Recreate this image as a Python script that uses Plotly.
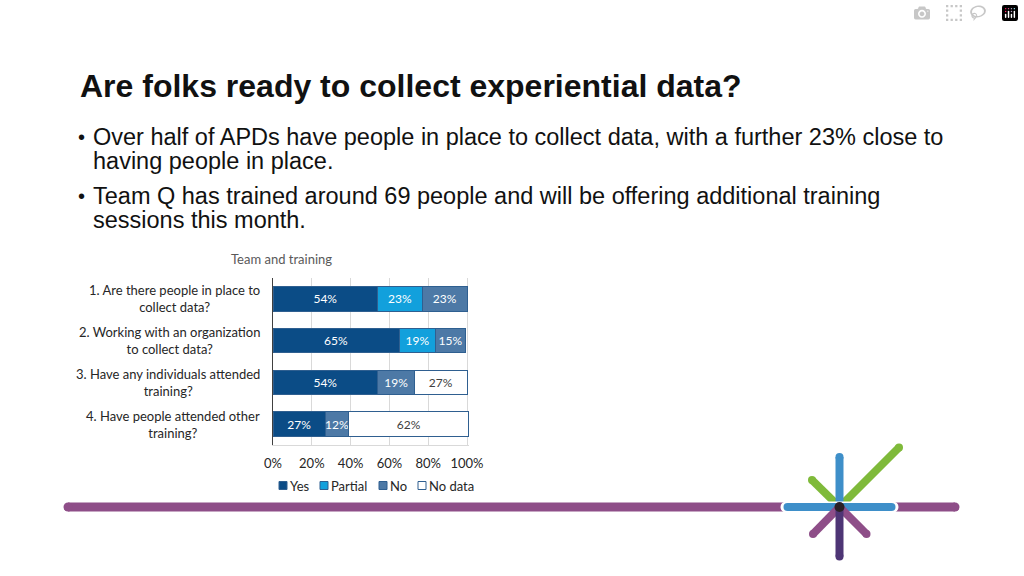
import plotly.graph_objects as go

W, H = 1024, 576

# ---------------- data ----------------
categories = [
    "1. Are there people in place to<br>collect data?",
    "2. Working with an organization<br>to collect data?",
    "3. Have any individuals attended<br>training?",
    "4. Have people attended other<br>training?",
]
series_names = ["Yes", "Partial", "No", "No data"]
yes_vals = [54, 65, 54, 27]
partial_vals = [23, 19, 0, 0]
no_vals = [23, 15, 19, 12]
nodata_vals = [0, 0, 27, 62]
series_values = [yes_vals, partial_vals, no_vals, nodata_vals]
series_colors = ["#0b4c86", "#12a0dc", "#4d79a6", "#ffffff"]
text_colors = ["#ffffff", "#ffffff", "#ffffff", "#404040"]
x_tick_vals = [0, 20, 40, 60, 80, 100]
x_tick_labels = ["0%", "20%", "40%", "60%", "80%", "100%"]

title_text = "Are folks ready to collect experiential data?"
bullet_lines = [
    ("•", "Over half of APDs have people in place to collect data, with a further 23% close to"),
    ("", "having people in place."),
    ("•", "Team Q has trained around 69 people and will be offering additional training"),
    ("", "sessions this month."),
]
chart_title = "Team and training"

# ---------------- helpers ----------------
def X(px):
    return px / W


def Y(py):
    return 1 - py / H


CHART_FONT = "Lato, Open Sans, sans-serif"
SLIDE_FONT = "Liberation Sans, Arial, sans-serif"

fig = go.Figure()

for name, vals, col, tcol in zip(series_names, series_values, series_colors, text_colors):
    fig.add_trace(go.Bar(
        name=name,
        y=categories,
        x=vals,
        orientation="h",
        marker=dict(color=col, line=dict(color="#2f5f90", width=1)),
        text=[f"{v}%" if v else "" for v in vals],
        textposition="inside",
        insidetextanchor="middle",
        textangle=0,
        constraintext="none",
        textfont=dict(family=CHART_FONT, size=12, color=tcol),
        cliponaxis=False,
        showlegend=False,
        hoverinfo="skip",
    ))

shapes = []
annotations = []

# ---- slide title and bullets ----
annotations.append(dict(
    xref="paper", yref="paper", x=X(78), y=Y(86), xanchor="left", yanchor="middle",
    text=f"<b>{title_text}</b>", showarrow=False,
    font=dict(family=SLIDE_FONT, size=32, color="#111111"),
))
bullet_y = [137, 161, 196, 220]
for (b, line), yy in zip(bullet_lines, bullet_y):
    if b:
        annotations.append(dict(
            xref="paper", yref="paper", x=X(76), y=Y(yy), xanchor="left", yanchor="middle",
            text=b, showarrow=False, font=dict(family=SLIDE_FONT, size=20, color="#111111"),
        ))
    annotations.append(dict(
        xref="paper", yref="paper", x=X(91), y=Y(yy), xanchor="left", yanchor="middle",
        text=line, showarrow=False, font=dict(family=SLIDE_FONT, size=23.5, color="#111111"),
    ))

# ---- chart title ----
annotations.append(dict(
    xref="paper", yref="paper", x=X(281), y=Y(259), xanchor="center", yanchor="middle",
    text=chart_title, showarrow=False, font=dict(family=CHART_FONT, size=13, color="#595959"),
))

# ---- category labels ----
for cat in categories:
    annotations.append(dict(
        xref="paper", yref="y", x=X(262), y=cat, xanchor="right", yanchor="middle",
        text=cat, align="center", showarrow=False,
        font=dict(family=CHART_FONT, size=13, color="#262626"),
    ))

# ---- custom legend ----
legend_x = [279, 320, 379, 418]
for name, col, lx in zip(series_names, series_colors, legend_x):
    shapes.append(dict(type="rect", xref="paper", yref="paper",
                       x0=X(lx), x1=X(lx + 8), y0=Y(489.5), y1=Y(481.5),
                       fillcolor=col, line=dict(color="#2f5f90", width=1)))
    annotations.append(dict(
        xref="paper", yref="paper", x=X(lx + 9), y=Y(485.5), xanchor="left", yanchor="middle",
        text=name, showarrow=False, font=dict(family=CHART_FONT, size=13, color="#262626"),
    ))


# ---- decorative line and logo ----
def rline(x0, y0, x1, y1, w, color):
    shapes.append(dict(type="line", xref="paper", yref="paper",
                       x0=X(x0), y0=Y(y0), x1=X(x1), y1=Y(y1),
                       line=dict(color=color, width=w)))
    r = w / 2
    for cx, cy in ((x0, y0), (x1, y1)):
        shapes.append(dict(type="circle", xref="paper", yref="paper",
                           x0=X(cx - r), x1=X(cx + r), y0=Y(cy - r), y1=Y(cy + r),
                           fillcolor=color, line=dict(width=0)))


cx, cy = 839.5, 507
rline(68, cy, 955, cy, 9, "#8e4e88")
rline(cx, cy, 899, 447.5, 8, "#7fba3a")
rline(cx, cy, 812, 480, 8, "#7fba3a")
rline(cx, cy, 839.5, 457, 8, "#3e8fc9")
rline(786, cy, 893, cy, 11, "#ffffff")
rline(787.5, cy, 891.5, cy, 8, "#3e8fc9")
rline(cx, cy, 813, 534, 8, "#8e4e88")
rline(cx, cy, 866.5, 534, 8, "#8e4e88")
rline(cx, cy, 839.5, 556.5, 8, "#4e3575")
shapes.append(dict(type="circle", xref="paper", yref="paper",
                   x0=X(cx - 5), x1=X(cx + 5), y0=Y(cy - 5), y1=Y(cy + 5),
                   fillcolor="#2a2025", line=dict(width=0)))

fig.update_layout(
    width=W, height=H, autosize=False,
    margin=dict(l=0, r=0, t=0, b=0, pad=0, autoexpand=False),
    paper_bgcolor="white", plot_bgcolor="white",
    barmode="stack", bargap=0.41,
    shapes=shapes, annotations=annotations,
    showlegend=False,
    xaxis=dict(domain=[X(273), X(273 + 194 * 1.01)], range=[0, 101], tickvals=x_tick_vals,
               ticktext=x_tick_labels, showgrid=True, gridcolor="#d9d9d9", gridwidth=1,
               zeroline=False, showline=True, linecolor="#d9d9d9", ticks="",
               ticklabelstandoff=6, automargin=False,
               tickfont=dict(family=CHART_FONT, size=13, color="#262626"), fixedrange=True),
    yaxis=dict(domain=[Y(445), Y(278)], autorange="reversed", showticklabels=False,
               showgrid=False, zeroline=False, showline=True, linecolor="#404040",
               linewidth=1, ticks="", fixedrange=True, automargin=False),
)

fig.write_html("out.html", post_script="document.body.style.margin='0';")
